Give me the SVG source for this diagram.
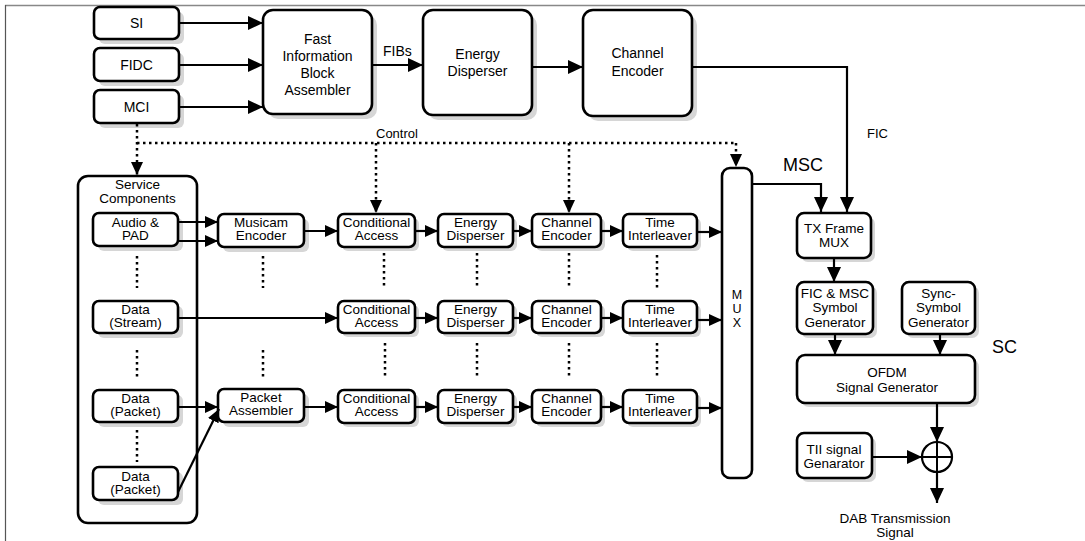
<svg xmlns="http://www.w3.org/2000/svg" width="1085" height="541" viewBox="0 0 1085 541">
  <defs>
    <marker id="ah" markerUnits="userSpaceOnUse" markerWidth="16" markerHeight="14" refX="15" refY="7" orient="auto">
      <path d="M0,0 L15,7 L0,14 Z" fill="#000"/>
    </marker>
    <marker id="ahs" markerUnits="userSpaceOnUse" markerWidth="14" markerHeight="12" refX="13" refY="6" orient="auto">
      <path d="M0,0 L13,6 L0,12 Z" fill="#000"/>
    </marker>
  </defs>
  <style>
    .box { fill: #fff; stroke: #000; stroke-width: 2.6; }
    .shd { fill: #d6d6d6; }
    .t { font-family: "Liberation Sans", Arial, sans-serif; font-size: 13.5px; fill: #000; text-anchor: middle; }
    .tb { font-family: "Liberation Sans", Arial, sans-serif; font-size: 14px; fill: #000; text-anchor: middle; }
    .lbl { font-family: "Liberation Sans", Arial, sans-serif; fill: #000; }
    .ca { fill: none; stroke: #000; stroke-width: 2.2; marker-end: url(#ah); }
    .cs { fill: none; stroke: #000; stroke-width: 2.2; marker-end: url(#ahs); }
    .d { fill: none; stroke: #000; stroke-width: 2.5; stroke-dasharray: 2.5 3.5; }
    .da { fill: none; stroke: #000; stroke-width: 2.5; stroke-dasharray: 2.5 3.5; marker-end: url(#ahs); }
  </style>

  <rect width="1085" height="541" fill="#fff"/>
  <!-- page frame -->
  <line x1="5" y1="5.5" x2="1085" y2="5.5" stroke="#888" stroke-width="1.5"/>
  <line x1="5.5" y1="5" x2="5.5" y2="541" stroke="#555" stroke-width="1.2"/>

  <!-- FIC source blocks -->
  <g id="si"><rect class="shd" x="99" y="12" width="85" height="32" rx="6"/><rect class="box" x="94" y="7" width="85" height="32" rx="6"/><text class="tb" x="136.5" y="28">SI</text></g>
  <g id="fidc"><rect class="shd" x="99" y="53" width="85" height="33" rx="6"/><rect class="box" x="94" y="48" width="85" height="33" rx="6"/><text class="tb" x="136.5" y="70">FIDC</text></g>
  <g id="mci"><rect class="shd" x="99" y="95" width="85" height="33" rx="6"/><rect class="box" x="94" y="90" width="85" height="33" rx="6"/><text class="tb" x="136.5" y="112">MCI</text></g>

  <g id="fib-assembler"><rect class="shd" x="268" y="15" width="109" height="104" rx="10"/><rect class="box" x="263" y="10" width="109" height="104" rx="10"/>
    <text class="tb" x="317.5" y="44">Fast</text><text class="tb" x="317.5" y="61">Information</text><text class="tb" x="317.5" y="78">Block</text><text class="tb" x="317.5" y="95">Assembler</text></g>
  <g id="fic-energy-disperser"><rect class="shd" x="428" y="15" width="109" height="105" rx="10"/><rect class="box" x="423" y="10" width="109" height="105" rx="10"/>
    <text class="tb" x="477.5" y="59">Energy</text><text class="tb" x="477.5" y="76">Disperser</text></g>
  <g id="fic-channel-encoder"><rect class="shd" x="588" y="15" width="109" height="106" rx="10"/><rect class="box" x="583" y="10" width="109" height="106" rx="10"/>
    <text class="tb" x="637.5" y="58">Channel</text><text class="tb" x="637.5" y="76">Encoder</text></g>

  <!-- service components -->
  <g id="service-components"><rect class="box" x="78" y="176" width="119" height="347" rx="10"/>
    <text class="t" x="137.5" y="189">Service</text><text class="t" x="137.5" y="203">Components</text></g>
  <g id="audio-pad"><rect class="shd" x="98" y="218" width="85" height="33" rx="6"/><rect class="box" x="93" y="213" width="85" height="33" rx="6"/><text class="t" x="135.5" y="227">Audio &amp;</text><text class="t" x="135.5" y="240">PAD</text></g>
  <g id="data-stream"><rect class="shd" x="98" y="306" width="85" height="32" rx="6"/><rect class="box" x="93" y="301" width="85" height="32" rx="6"/><text class="t" x="135.5" y="314">Data</text><text class="t" x="135.5" y="327">(Stream)</text></g>
  <g id="data-packet-1"><rect class="shd" x="98" y="395" width="85" height="32" rx="6"/><rect class="box" x="93" y="390" width="85" height="32" rx="6"/><text class="t" x="135.5" y="403">Data</text><text class="t" x="135.5" y="416">(Packet)</text></g>
  <g id="data-packet-2"><rect class="shd" x="98" y="472" width="85" height="33" rx="6"/><rect class="box" x="93" y="467" width="85" height="33" rx="6"/><text class="t" x="135.5" y="481">Data</text><text class="t" x="135.5" y="494">(Packet)</text></g>

  <g id="musicam-encoder"><rect class="shd" x="223" y="219" width="86" height="33" rx="6"/><rect class="box" x="218" y="214" width="86" height="33" rx="6"/><text class="t" x="261" y="227">Musicam</text><text class="t" x="261" y="240">Encoder</text></g>
  <g id="packet-assembler"><rect class="shd" x="223" y="394" width="86" height="33" rx="6"/><rect class="box" x="218" y="389" width="86" height="33" rx="6"/><text class="t" x="261" y="402">Packet</text><text class="t" x="261" y="415">Assembler</text></g>

  <!-- row 1 -->
  <g id="ca-1"><rect class="shd" x="342" y="218" width="77" height="33" rx="6"/><rect class="box" x="338" y="214" width="77" height="33" rx="6"/><text class="t" x="376.5" y="227">Conditional</text><text class="t" x="376.5" y="240">Access</text></g>
  <g id="ed-1"><rect class="shd" x="442" y="218" width="75" height="33" rx="6"/><rect class="box" x="438" y="214" width="75" height="33" rx="6"/><text class="t" x="475.5" y="227">Energy</text><text class="t" x="475.5" y="240">Disperser</text></g>
  <g id="ce-1"><rect class="shd" x="536" y="218" width="69" height="33" rx="6"/><rect class="box" x="532" y="214" width="69" height="33" rx="6"/><text class="t" x="566.5" y="227">Channel</text><text class="t" x="566.5" y="240">Encoder</text></g>
  <g id="ti-1"><rect class="shd" x="627" y="218" width="74" height="33" rx="6"/><rect class="box" x="623" y="214" width="74" height="33" rx="6"/><text class="t" x="660" y="227">Time</text><text class="t" x="660" y="240">Interleaver</text></g>

  <!-- row 2 -->
  <g id="ca-2"><rect class="shd" x="342" y="305" width="77" height="32" rx="6"/><rect class="box" x="338" y="301" width="77" height="32" rx="6"/><text class="t" x="376.5" y="314">Conditional</text><text class="t" x="376.5" y="327">Access</text></g>
  <g id="ed-2"><rect class="shd" x="442" y="305" width="75" height="32" rx="6"/><rect class="box" x="438" y="301" width="75" height="32" rx="6"/><text class="t" x="475.5" y="314">Energy</text><text class="t" x="475.5" y="327">Disperser</text></g>
  <g id="ce-2"><rect class="shd" x="536" y="305" width="69" height="32" rx="6"/><rect class="box" x="532" y="301" width="69" height="32" rx="6"/><text class="t" x="566.5" y="314">Channel</text><text class="t" x="566.5" y="327">Encoder</text></g>
  <g id="ti-2"><rect class="shd" x="627" y="305" width="74" height="32" rx="6"/><rect class="box" x="623" y="301" width="74" height="32" rx="6"/><text class="t" x="660" y="314">Time</text><text class="t" x="660" y="327">Interleaver</text></g>

  <!-- row 3 -->
  <g id="ca-3"><rect class="shd" x="342" y="394" width="77" height="33" rx="6"/><rect class="box" x="338" y="390" width="77" height="33" rx="6"/><text class="t" x="376.5" y="403">Conditional</text><text class="t" x="376.5" y="416">Access</text></g>
  <g id="ed-3"><rect class="shd" x="442" y="394" width="75" height="33" rx="6"/><rect class="box" x="438" y="390" width="75" height="33" rx="6"/><text class="t" x="475.5" y="403">Energy</text><text class="t" x="475.5" y="416">Disperser</text></g>
  <g id="ce-3"><rect class="shd" x="536" y="394" width="69" height="33" rx="6"/><rect class="box" x="532" y="390" width="69" height="33" rx="6"/><text class="t" x="566.5" y="403">Channel</text><text class="t" x="566.5" y="416">Encoder</text></g>
  <g id="ti-3"><rect class="shd" x="627" y="394" width="74" height="33" rx="6"/><rect class="box" x="623" y="390" width="74" height="33" rx="6"/><text class="t" x="660" y="403">Time</text><text class="t" x="660" y="416">Interleaver</text></g>

  <!-- multiplexer -->
  <g id="mux"><rect class="box" x="722" y="168" width="30" height="310" rx="8"/>
    <text class="t" x="737" y="299" style="font-size:12.5px">M</text><text class="t" x="737" y="313" style="font-size:12.5px">U</text><text class="t" x="737" y="327" style="font-size:12.5px">X</text></g>

  <!-- transmission side -->
  <g id="tx-frame-mux"><rect class="shd" x="801" y="217" width="74" height="45" rx="7"/><rect class="box" x="797" y="213" width="74" height="45" rx="7"/><text class="t" x="834" y="233">TX Frame</text><text class="t" x="834" y="247">MUX</text></g>
  <g id="symbol-generator"><rect class="shd" x="801" y="286" width="76" height="52" rx="7"/><rect class="box" x="797" y="282" width="76" height="52" rx="7"/><text class="t" x="835" y="298">FIC &amp; MSC</text><text class="t" x="835" y="312">Symbol</text><text class="t" x="835" y="327">Generator</text></g>
  <g id="sync-generator"><rect class="shd" x="906" y="286" width="73" height="52" rx="7"/><rect class="box" x="902" y="282" width="73" height="52" rx="7"/><text class="t" x="938.5" y="298">Sync-</text><text class="t" x="938.5" y="312">Symbol</text><text class="t" x="938.5" y="327">Generator</text></g>
  <g id="ofdm"><rect class="shd" x="801" y="359" width="178" height="48" rx="8"/><rect class="box" x="797" y="355" width="178" height="48" rx="8"/><text class="t" x="887" y="377">OFDM</text><text class="t" x="887" y="392">Signal Generator</text></g>
  <g id="tii"><rect class="shd" x="801" y="437" width="75" height="45" rx="7"/><rect class="box" x="797" y="433" width="75" height="45" rx="7"/><text class="t" x="834" y="454">TII signal</text><text class="t" x="834" y="468">Genarator</text></g>
  <g id="adder"><circle cx="937" cy="457" r="15" fill="#fff" stroke="#000" stroke-width="2.2"/>
    <line x1="922" y1="457" x2="952" y2="457" stroke="#000" stroke-width="2"/><line x1="937" y1="442" x2="937" y2="472" stroke="#000" stroke-width="2"/></g>

  <!-- labels -->
  <g id="labels">
    <text class="lbl" x="383" y="56" style="font-size:14px">FIBs</text>
    <text class="lbl" x="376" y="138" style="font-size:13px">Control</text>
    <text class="lbl" x="867" y="138" style="font-size:13px">FIC</text>
    <text class="lbl" x="783" y="171" style="font-size:18px">MSC</text>
    <text class="lbl" x="992" y="353" style="font-size:18px">SC</text>
    <text class="t" x="895" y="523">DAB Transmission</text>
    <text class="t" x="895" y="537">Signal</text>
  </g>

  <g id="connectors">
    <!-- FIC path -->
    <line class="ca" x1="179" y1="23" x2="263" y2="23"/>
    <line class="ca" x1="179" y1="65" x2="263" y2="65"/>
    <line class="ca" x1="179" y1="107" x2="263" y2="107"/>
    <line class="ca" x1="372" y1="65" x2="423" y2="65"/>
    <line class="ca" x1="532" y1="67" x2="583" y2="67"/>
    <polyline class="ca" points="692,67 847,67 847,212"/>
    <polyline class="ca" points="752,184 821,184 821,212"/>

    <!-- control -->
    <line class="da" x1="137" y1="124" x2="137" y2="175"/>
    <polyline class="d" points="137,143 736,143"/>
    <line class="da" x1="736" y1="143" x2="736" y2="167"/>
    <line class="da" x1="376" y1="143" x2="376" y2="213"/>
    <line class="da" x1="569" y1="143" x2="569" y2="213"/>

    <!-- row 1 -->
    <line class="cs" x1="178" y1="222" x2="218" y2="222"/>
    <line class="cs" x1="178" y1="241" x2="218" y2="241"/>
    <line class="cs" x1="304" y1="231" x2="338" y2="231"/>
    <line class="cs" x1="415" y1="231" x2="438" y2="231"/>
    <line class="cs" x1="513" y1="231" x2="532" y2="231"/>
    <line class="cs" x1="601" y1="231" x2="623" y2="231"/>
    <line class="cs" x1="697" y1="232" x2="722" y2="232"/>

    <!-- row 2 -->
    <line class="cs" x1="178" y1="318" x2="338" y2="318"/>
    <line class="cs" x1="415" y1="318" x2="438" y2="318"/>
    <line class="cs" x1="513" y1="318" x2="532" y2="318"/>
    <line class="cs" x1="601" y1="318" x2="623" y2="318"/>
    <line class="cs" x1="697" y1="320" x2="722" y2="320"/>

    <!-- row 3 -->
    <line class="cs" x1="178" y1="407" x2="218" y2="407"/>
    <line class="cs" x1="178" y1="492" x2="219" y2="409"/>
    <line class="cs" x1="304" y1="407" x2="338" y2="407"/>
    <line class="cs" x1="415" y1="407" x2="438" y2="407"/>
    <line class="cs" x1="513" y1="407" x2="532" y2="407"/>
    <line class="cs" x1="601" y1="407" x2="623" y2="407"/>
    <line class="cs" x1="697" y1="408" x2="722" y2="408"/>

    <!-- continuation dots between rows -->
    <line class="d" x1="137" y1="256" x2="137" y2="288"/>
    <line class="d" x1="263" y1="256" x2="263" y2="288"/>
    <line class="d" x1="384" y1="253" x2="384" y2="288"/>
    <line class="d" x1="477" y1="253" x2="477" y2="288"/>
    <line class="d" x1="569" y1="253" x2="569" y2="288"/>
    <line class="d" x1="657" y1="255" x2="657" y2="290"/>
    <line class="d" x1="137" y1="350" x2="137" y2="378"/>
    <line class="d" x1="263" y1="350" x2="263" y2="378"/>
    <line class="d" x1="385" y1="343" x2="385" y2="378"/>
    <line class="d" x1="477" y1="343" x2="477" y2="378"/>
    <line class="d" x1="569" y1="343" x2="569" y2="378"/>
    <line class="d" x1="657" y1="343" x2="657" y2="378"/>
    <line class="d" x1="137" y1="430" x2="137" y2="462"/>

    <!-- transmission chain -->
    <line class="ca" x1="834" y1="258" x2="834" y2="282"/>
    <line class="ca" x1="835" y1="334" x2="835" y2="355"/>
    <line class="ca" x1="940" y1="334" x2="940" y2="355"/>
    <line class="ca" x1="937" y1="403" x2="937" y2="442"/>
    <line class="ca" x1="872" y1="457" x2="922" y2="457"/>
    <line class="ca" x1="937" y1="472" x2="937" y2="503"/>
  </g>
</svg>
